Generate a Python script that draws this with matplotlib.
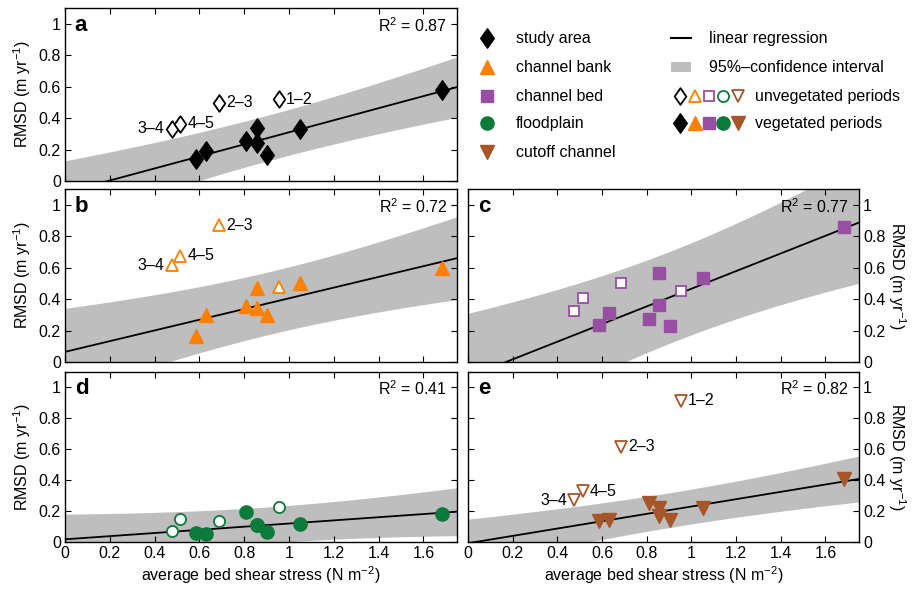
import numpy as np
import matplotlib
matplotlib.use("Agg")
import matplotlib.pyplot as plt
from matplotlib.path import Path

plt.rcParams["font.family"] = ["Liberation Sans", "DejaVu Sans"]
plt.rcParams["mathtext.fontset"] = "custom"
plt.rcParams["mathtext.rm"] = "Liberation Sans"
plt.rcParams["mathtext.it"] = "Liberation Sans:italic"

# shear stress of each period (vegetated / unvegetated)
x_veg = [0.585, 0.63, 0.81, 0.857, 0.857, 0.903, 1.05, 1.683]
x_unveg = [0.954, 0.687, 0.476, 0.515]
period_labels = ["1–2", "2–3", "3–4", "4–5"]

# RMSD per landscape unit
y_veg = {
    "a": [0.141, 0.192, 0.252, 0.335, 0.239, 0.167, 0.331, 0.581],
    "b": [0.167, 0.296, 0.356, 0.468, 0.343, 0.300, 0.500, 0.597],
    "c": [0.236, 0.311, 0.275, 0.564, 0.365, 0.232, 0.532, 0.861],
    "d": [0.060, 0.050, 0.194, 0.112, 0.108, 0.065, 0.119, 0.184],
    "e": [0.136, 0.140, 0.255, 0.222, 0.168, 0.143, 0.218, 0.406],
}
y_unveg = {
    "a": [0.521, 0.496, 0.331, 0.363],
    "b": [0.478, 0.871, 0.615, 0.676],
    "c": [0.450, 0.500, 0.322, 0.408],
    "d": [0.227, 0.134, 0.073, 0.149],
    "e": [0.914, 0.616, 0.270, 0.330],
}
r2_text = {"a": "0.87", "b": "0.72", "c": "0.77", "d": "0.41", "e": "0.82"}
# which unvegetated periods get a text label
labelled = {"a": [0, 1, 2, 3], "b": [1, 2, 3], "c": [], "d": [], "e": [0, 1, 2, 3]}

unit_names = ["study area", "channel bank", "channel bed", "floodplain", "cutoff channel"]
xticks = [0, 0.2, 0.4, 0.6, 0.8, 1.0, 1.2, 1.4, 1.6]
xticklabels = ["0", "0.2", "0.4", "0.6", "0.8", "1", "1.2", "1.4", "1.6"]
yticks = [0, 0.2, 0.4, 0.6, 0.8, 1.0]
yticklabels = ["0", "0.2", "0.4", "0.6", "0.8", "1"]

T_975_DF6 = 2.447  # Student t, 95 %, n-2 = 6

diamond = Path([(0, 1), (0.7, 0), (0, -1), (-0.7, 0), (0, 1)],
               [Path.MOVETO, Path.LINETO, Path.LINETO, Path.LINETO, Path.CLOSEPOLY])

style = {
    "a": dict(color="black", marker=diamond, ms=14, ms_open=12),
    "b": dict(color="#FF7F00", marker="^", ms=10, ms_open=8.5),
    "c": dict(color="#984EA3", marker="s", ms=8.5, ms_open=7),
    "d": dict(color="#0B7A3A", marker="o", ms=9.5, ms_open=8),
    "e": dict(color="#A65628", marker="v", ms=10, ms_open=8.5),
}

fig = plt.figure(figsize=(9.13, 5.9), dpi=100)
W, H = 913, 590


def px_axes(x0, y0, x1, y1):
    return fig.add_axes([x0 / W, 1 - y1 / H, (x1 - x0) / W, (y1 - y0) / H])


axes = {
    "a": px_axes(65, 8, 457, 181),
    "b": px_axes(65, 189, 457, 362),
    "c": px_axes(468, 189, 859, 362),
    "d": px_axes(65, 372, 457, 542),
    "e": px_axes(468, 372, 859, 542),
}
FS = 11.5
xs = np.linspace(0, 1.75, 200)

for key, ax in axes.items():
    st = style[key]
    xv = np.array(x_veg)
    yv = np.array(y_veg[key])
    # linear fit on vegetated periods with 95 % prediction band
    slope, icpt = np.polyfit(xv, yv, 1)
    n = len(xv)
    resid = yv - (slope * xv + icpt)
    s = np.sqrt(np.sum(resid ** 2) / (n - 2))
    sxx = np.sum((xv - xv.mean()) ** 2)
    half = T_975_DF6 * s * np.sqrt(1 + 1 / n + (xs - xv.mean()) ** 2 / sxx)
    fit = slope * xs + icpt
    ax.fill_between(xs, fit - half, fit + half, color="#BEBEBE", lw=0, zorder=1)
    ax.plot(xs, fit, color="black", lw=1.3, zorder=2)

    ax.plot(x_veg, y_veg[key], ls="none", marker=st["marker"], ms=st["ms"],
            mfc=st["color"], mec=st["color"], mew=1, zorder=3)
    ax.plot(x_unveg, y_unveg[key], ls="none", marker=st["marker"], ms=st["ms_open"],
            mfc="white", mec=st["color"], mew=1.3, zorder=4)
    for i in labelled[key]:
        right = period_labels[i] != "3–4"
        ax.annotate(period_labels[i], (x_unveg[i], y_unveg[key][i]),
                    xytext=(5 if right else -5, 0), textcoords="offset points",
                    ha="left" if right else "right", va="center", fontsize=FS, zorder=5)

    ax.text(0.025, 0.9, key, transform=ax.transAxes, fontsize=16, fontweight="bold",
            ha="left", va="center")
    ax.text(0.975, 0.9, "R$^2$ = " + r2_text[key], transform=ax.transAxes,
            fontsize=FS, ha="right", va="center")

    ax.set_xlim(0, 1.75)
    ax.set_ylim(0, 1.1)
    ax.set_xticks(xticks)
    ax.set_yticks(yticks)
    ax.set_yticklabels(yticklabels)
    ax.tick_params(direction="in", length=4, width=0.8, top=True, right=True,
                   labelsize=FS, pad=3)
    for sp in ax.spines.values():
        sp.set_linewidth(1.0)

    if key in ("d", "e"):
        ax.set_xticklabels(xticklabels)
        ax.set_xlabel("average bed shear stress (N m$^{-2}$)", fontsize=FS, labelpad=2)
    else:
        ax.set_xticklabels([])
    if key in ("c", "e"):
        ax.yaxis.tick_right()
        ax.tick_params(left=True, right=True, labelleft=False, labelright=True)
        ax.yaxis.set_label_position("right")
        ax.set_ylabel("RMSD (m yr$^{-1}$)", fontsize=FS, rotation=270, labelpad=16)
    else:
        ax.set_ylabel("RMSD (m yr$^{-1}$)", fontsize=FS, labelpad=4)

# legend drawn in its own pixel-space axes
lg = fig.add_axes([460 / W, 1 - 185 / H, 453 / W, 185 / H])
lg.set_xlim(460, 913)
lg.set_ylim(185, 0)
lg.axis("off")
rows = [38, 67, 96, 123, 152]
for key, name, yy in zip("abcde", unit_names, rows):
    st = style[key]
    lg.plot([487], [yy], ls="none", marker=st["marker"], ms=st["ms"],
            mfc=st["color"], mec=st["color"])
    lg.text(516, yy, name, fontsize=FS, va="center", ha="left")
lg.plot([671, 691], [rows[0], rows[0]], color="black", lw=1.5)
lg.text(709, rows[0], "linear regression", fontsize=FS, va="center", ha="left")
lg.fill_between([671, 691], rows[1] - 5, rows[1] + 5, color="#BEBEBE", lw=0)
lg.text(709, rows[1], "95%–confidence interval", fontsize=FS, va="center", ha="left")
mx = [680, 695, 709, 723, 738]
for key, xx in zip("abcde", mx):
    st = style[key]
    lg.plot([xx], [rows[2]], ls="none", marker=st["marker"], ms=st["ms_open"],
            mfc="white", mec=st["color"], mew=1.3)
    lg.plot([xx], [rows[3]], ls="none", marker=st["marker"], ms=st["ms"],
            mfc=st["color"], mec=st["color"])
lg.text(755, rows[2], "unvegetated periods", fontsize=FS, va="center", ha="left")
lg.text(755, rows[3], "vegetated periods", fontsize=FS, va="center", ha="left")

fig.savefig("out.png", dpi=100)
